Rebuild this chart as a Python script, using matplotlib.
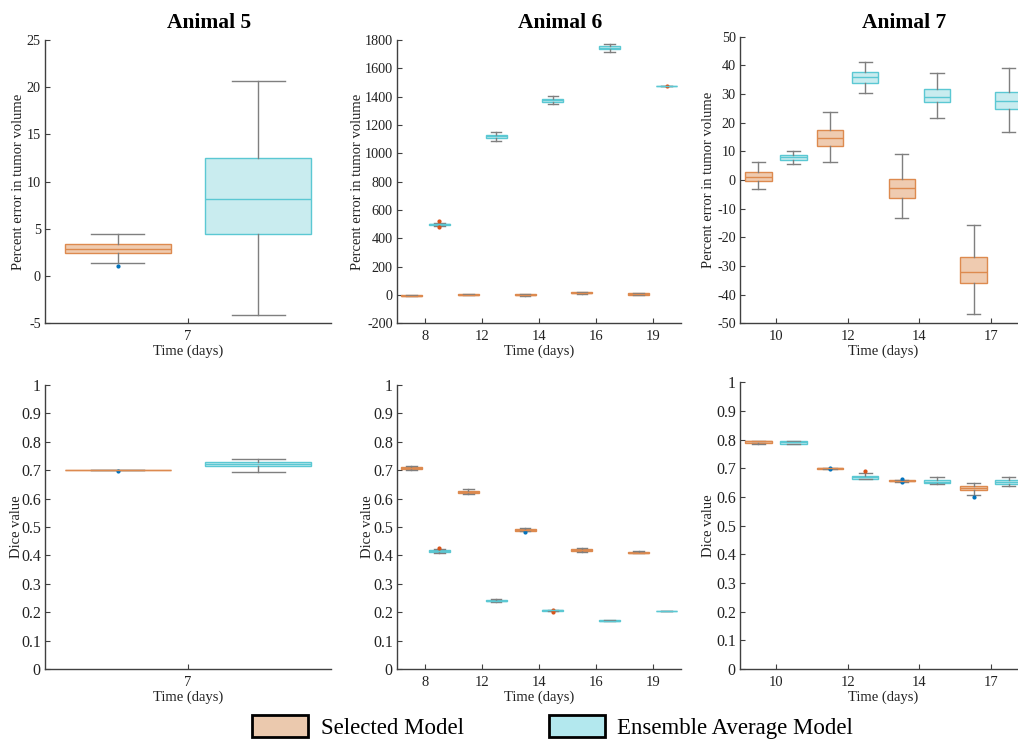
import matplotlib
matplotlib.use("Agg")
import matplotlib.pyplot as plt
from matplotlib.patches import Patch
from matplotlib.ticker import FormatStrFormatter

plt.rcParams['font.family'] = ['Liberation Serif', 'DejaVu Serif']
plt.rcParams['axes.unicode_minus'] = False

# ---- data ----
# each box: (median, q1, q3, whisker low, whisker high, outliers)
days5 = [7]
days6 = [8, 12, 14, 16, 19]
days7 = [10, 12, 14, 17]

# percent error in tumor volume
err5_sel = [(2.85, 2.46, 3.35, 1.34, 4.5, [1.1])]
err5_ens = [(8.17, 4.5, 12.46, -4.15, 20.63, [])]

err6_sel = [(-4, -6, -2, -8, 0, []),
            (3, 1, 6, -1, 8, []),
            (1, -2, 4, -5, 7, []),
            (15, 11, 19, 8, 22, []),
            (8, 3, 13, 0, 16, [])]
err6_ens = [(499, 494, 503, 487, 510, [520, 480]),
            (1120, 1106, 1132, 1090, 1152, []),
            (1375, 1364, 1387, 1346, 1408, []),
            (1747, 1737, 1757, 1718, 1775, []),
            (1472, 1472, 1472, 1472, 1472, [1473])]

err7_sel = [(1.2, -0.35, 2.8, -3.1, 6.4, []),
            (14.7, 12.0, 17.4, 6.3, 23.6, []),
            (-2.9, -6.2, 0.35, -13.1, 9.2, []),
            (-32.0, -35.9, -26.7, -46.9, -15.7, [])]
err7_ens = [(7.9, 7.0, 8.7, 5.5, 10.1, []),
            (35.8, 33.7, 37.8, 30.3, 41.3, []),
            (29.1, 27.1, 31.7, 21.5, 37.2, []),
            (27.4, 24.7, 30.8, 16.9, 39.0, [])]

# dice value
dice5_sel = [(0.700, 0.700, 0.700, 0.700, 0.700, [0.698])]
dice5_ens = [(0.722, 0.716, 0.728, 0.694, 0.741, [])]

dice6_sel = [(0.707, 0.704, 0.711, 0.700, 0.714, []),
             (0.623, 0.619, 0.627, 0.615, 0.633, []),
             (0.489, 0.487, 0.492, 0.485, 0.495, [0.482]),
             (0.418, 0.416, 0.421, 0.413, 0.426, []),
             (0.410, 0.408, 0.412, 0.407, 0.414, [])]
dice6_ens = [(0.415, 0.411, 0.419, 0.407, 0.421, [0.425]),
             (0.240, 0.238, 0.243, 0.236, 0.245, []),
             (0.206, 0.205, 0.207, 0.204, 0.208, [0.209, 0.202]),
             (0.170, 0.169, 0.171, 0.168, 0.172, []),
             (0.203, 0.203, 0.203, 0.203, 0.203, [])]

dice7_sel = [(0.794, 0.790, 0.795, 0.786, 0.797, []),
             (0.700, 0.699, 0.701, 0.698, 0.702, [0.702, 0.698]),
             (0.656, 0.655, 0.658, 0.653, 0.659, [0.662, 0.651]),
             (0.631, 0.624, 0.638, 0.606, 0.650, [0.599])]
dice7_ens = [(0.791, 0.786, 0.795, 0.785, 0.796, []),
             (0.670, 0.664, 0.674, 0.663, 0.685, [0.692]),
             (0.652, 0.648, 0.658, 0.645, 0.670, []),
             (0.652, 0.647, 0.658, 0.638, 0.670, [])]

# ---- style ----
sel_edge, sel_face, sel_flier = '#DD8A4F', '#EFCBB0', '#0072BD'
ens_edge, ens_face, ens_flier = '#5BC8D3', '#C9ECEF', '#D95319'
whisk_col = '#7F7F7F'
W, H = 1018, 745


def to_stats(rows):
    out = []
    for med, q1, q3, lo, hi, fl in rows:
        out.append(dict(med=med, q1=q1, q3=q3, whislo=lo, whishi=hi, fliers=fl))
    return out


def draw_boxes(ax, rows, offset, edge, face, flier):
    pos = [i + 1 + offset for i in range(len(rows))]
    ax.bxp(to_stats(rows), positions=pos, widths=0.37, patch_artist=True,
           boxprops=dict(facecolor=face, edgecolor=edge, linewidth=1.0),
           medianprops=dict(color=edge, linewidth=1.0),
           whiskerprops=dict(color=whisk_col, linewidth=1.0),
           capprops=dict(color=whisk_col, linewidth=1.0),
           flierprops=dict(marker='.', markersize=4, markerfacecolor=flier,
                           markeredgecolor=flier, linestyle='none'),
           manage_ticks=False)


def px_axes(fig, left, top, right, bottom):
    return fig.add_axes([left / W, (H - bottom) / H, (right - left) / W, (bottom - top) / H])


def style(ax, days, ylim, yticks, ylabel, ylab_x, ysize):
    ax.set_xlim(0.5, len(days) + 0.5)
    ax.set_xticks(range(1, len(days) + 1))
    ax.set_xticklabels([str(d) for d in days])
    ax.set_ylim(*ylim)
    ax.set_yticks(yticks)
    ax.yaxis.set_major_formatter(FormatStrFormatter('%g'))
    for s in ['top', 'right']:
        ax.spines[s].set_visible(False)
    for s in ['left', 'bottom']:
        ax.spines[s].set_color('#404040')
        ax.spines[s].set_linewidth(1.0)
    ax.tick_params(direction='in', length=3.5, width=0.8, color='#404040',
                   labelcolor='#222222')
    ax.tick_params(axis='y', pad=3, labelsize=ysize)
    ax.tick_params(axis='x', pad=5, labelsize=10.5)
    ax.set_ylabel(ylabel, fontsize=10.5, color='#222222')
    ax.yaxis.set_label_coords(ylab_x, 0.5)
    ax.set_xlabel('Time (days)', fontsize=10.5, color='#222222')
    ax.xaxis.set_label_coords(0.5, -0.075)


fig = plt.figure(figsize=(W / 100, H / 100), dpi=100)

cols = [(45, 331, days5, err5_sel, err5_ens, dice5_sel, dice5_ens,
         (-5, 25), range(-5, 26, 5), -0.07, 'Animal 5', 40, 385),
        (397, 681, days6, err6_sel, err6_ens, dice6_sel, dice6_ens,
         (-200, 1800), range(-200, 1801, 200), -0.116, 'Animal 6', 40, 385),
        (740, 1027, days7, err7_sel, err7_ens, dice7_sel, dice7_ens,
         (-50, 50), range(-50, 51, 10), -0.087, 'Animal 7', 36.7, 382.3)]

dice_ticks = [i / 10 for i in range(11)]
dice_lab_x = [-0.077, -0.081, -0.087]

for k, (l, r, days, es, ee, ds, de, ylim, yt, ylx, title, ttop, btop) in enumerate(cols):
    ax = px_axes(fig, l, ttop, r, 323.3)
    draw_boxes(ax, es, -0.245, sel_edge, sel_face, sel_flier)
    draw_boxes(ax, ee, 0.245, ens_edge, ens_face, ens_flier)
    style(ax, days, ylim, yt, 'Percent error in tumor volume', ylx, 10.2)
    fig.text((l + (r - l) / 2 + 21) / W, 1 - 23 / H, title, ha='center', va='center',
             fontsize=15.5, fontweight='bold')

    ax = px_axes(fig, l, btop, r, 669)
    draw_boxes(ax, ds, -0.245, sel_edge, sel_face, sel_flier)
    draw_boxes(ax, de, 0.245, ens_edge, ens_face, ens_flier)
    style(ax, days, (0, 1), dice_ticks, 'Dice value', dice_lab_x[k], 11.5)

handles = [Patch(facecolor='#EBC9AE', edgecolor='black', linewidth=2, label='Selected Model'),
           Patch(facecolor='#B3E8EE', edgecolor='black', linewidth=2, label='Ensemble Average Model')]
fig.legend(handles=handles, loc='center left', bbox_to_anchor=(252 / W, 18 / H), ncol=2,
           frameon=False, fontsize=16.5, handlelength=2.45, handleheight=1.05,
           handletextpad=0.55, columnspacing=3.7, borderpad=0, borderaxespad=0)

fig.savefig('out.png', dpi=100)
